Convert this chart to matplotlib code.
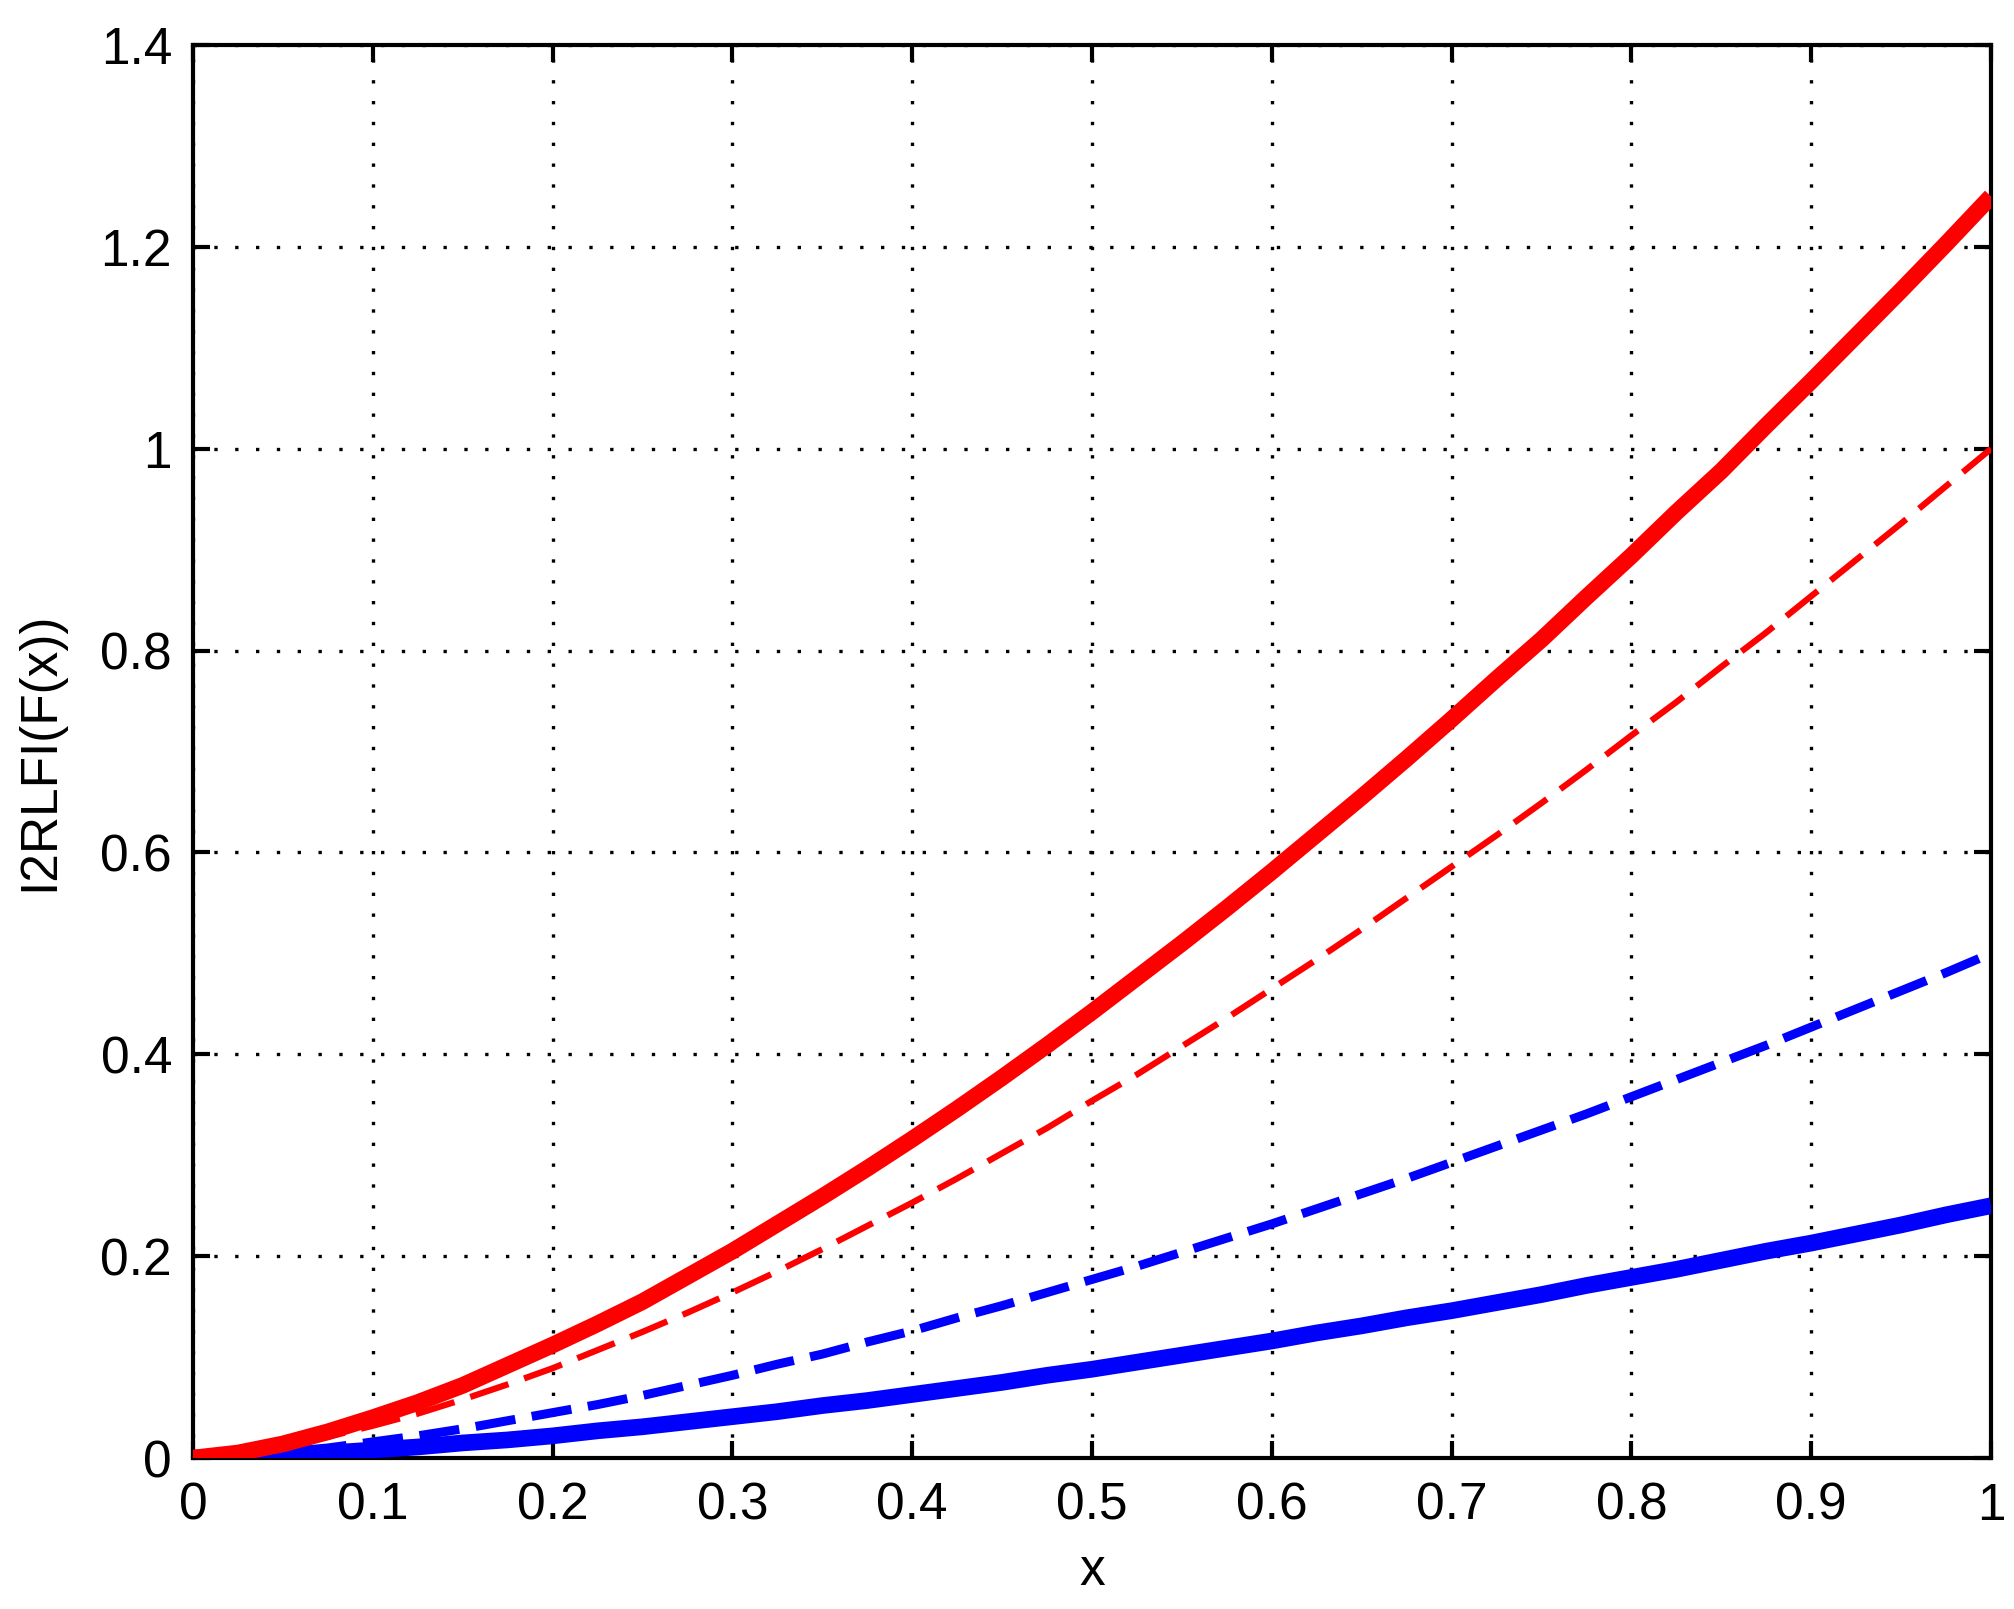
import matplotlib
matplotlib.use('Agg')
import matplotlib.pyplot as plt

plt.rcParams['font.family'] = ['Liberation Sans', 'DejaVu Sans']
plt.rcParams['lines.scale_dashes'] = False

# values at x = 0, 0.025, ..., 1
x_vals = [0.0, 0.025, 0.05, 0.075, 0.1, 0.125, 0.15, 0.175, 0.2, 0.225, 0.25,
          0.275, 0.3, 0.325, 0.35, 0.375, 0.4, 0.425, 0.45, 0.475, 0.5,
          0.525, 0.55, 0.575, 0.6, 0.625, 0.65, 0.675, 0.7, 0.725, 0.75,
          0.775, 0.8, 0.825, 0.85, 0.875, 0.9, 0.925, 0.95, 0.975, 1.0]
red_solid = [0.0, 0.005, 0.014, 0.026, 0.040, 0.055, 0.072, 0.092, 0.112, 0.133, 0.155,
             0.180, 0.205, 0.232, 0.259, 0.287, 0.316, 0.346, 0.377, 0.409, 0.442,
             0.476, 0.510, 0.545, 0.581, 0.618, 0.655, 0.693, 0.732, 0.772, 0.811,
             0.853, 0.894, 0.937, 0.978, 1.023, 1.067, 1.112, 1.157, 1.203, 1.250]
red_dashed = [0.0, 0.004, 0.011, 0.021, 0.032, 0.044, 0.058, 0.073, 0.089, 0.107, 0.125,
              0.144, 0.164, 0.185, 0.207, 0.230, 0.253, 0.277, 0.302, 0.327, 0.354,
              0.380, 0.408, 0.436, 0.465, 0.494, 0.524, 0.555, 0.586, 0.617, 0.649,
              0.682, 0.716, 0.749, 0.784, 0.818, 0.854, 0.890, 0.926, 0.963, 1.000]
blue_dashed = [0.0, 0.002, 0.006, 0.010, 0.016, 0.022, 0.029, 0.037, 0.045, 0.053, 0.062,
               0.072, 0.082, 0.093, 0.103, 0.115, 0.126, 0.139, 0.151, 0.164, 0.177,
               0.190, 0.204, 0.218, 0.232, 0.247, 0.262, 0.277, 0.293, 0.309, 0.325,
               0.341, 0.358, 0.375, 0.392, 0.409, 0.427, 0.445, 0.463, 0.481, 0.500]
blue_solid = [0.0, 0.001, 0.003, 0.005, 0.008, 0.011, 0.015, 0.018, 0.022, 0.027, 0.031,
              0.036, 0.041, 0.046, 0.052, 0.057, 0.063, 0.069, 0.075, 0.082, 0.088,
              0.095, 0.102, 0.109, 0.116, 0.124, 0.131, 0.139, 0.146, 0.154, 0.162,
              0.171, 0.179, 0.187, 0.196, 0.205, 0.213, 0.222, 0.231, 0.241, 0.250]

x_ticks = [0, 0.1, 0.2, 0.3, 0.4, 0.5, 0.6, 0.7, 0.8, 0.9, 1]
x_ticklabels = ['0', '0.1', '0.2', '0.3', '0.4', '0.5', '0.6', '0.7', '0.8', '0.9', '1']
y_ticks = [0, 0.2, 0.4, 0.6, 0.8, 1, 1.2, 1.4]
y_ticklabels = ['0', '0.2', '0.4', '0.6', '0.8', '1', '1.2', '1.4']

fig = plt.figure(figsize=(20.14, 16.09), dpi=100)
ax = fig.add_axes([0.0958, 0.0938, 0.8928, 0.8782])

ax.plot(x_vals, red_solid, color='#ff0000', lw=12, solid_capstyle='butt', zorder=4)
ax.plot(x_vals, red_dashed, color='#ff0000', lw=4.5, linestyle=(0, (29, 12)),
        dash_capstyle='butt', zorder=3)
ax.plot(x_vals, blue_dashed, color='#0000ff', lw=6.5, linestyle=(0, (29, 12)),
        dash_capstyle='butt', zorder=3)
ax.plot(x_vals, blue_solid, color='#0000ff', lw=12, solid_capstyle='butt', zorder=3)

ax.set_xlim(0, 1)
ax.set_ylim(0, 1.4)
ax.set_xticks(x_ticks)
ax.set_xticklabels(x_ticklabels)
ax.set_yticks(y_ticks)
ax.set_yticklabels(y_ticklabels)

ax.grid(True, color='black', linestyle=(0, (2.4, 12.6)), linewidth=2.4)
ax.set_axisbelow(True)
for sp in ax.spines.values():
    sp.set_linewidth(3)

ax.tick_params(direction='in', length=12, width=3, top=True, right=True,
               labelsize=37)
ax.tick_params(axis='x', pad=17)
ax.tick_params(axis='y', pad=15)

ax.set_xlabel('x', fontsize=37, labelpad=12)
ax.set_ylabel('I2RLFI(F(x))', fontsize=37, labelpad=26)

fig.savefig('out.png', dpi=100, facecolor='white')
